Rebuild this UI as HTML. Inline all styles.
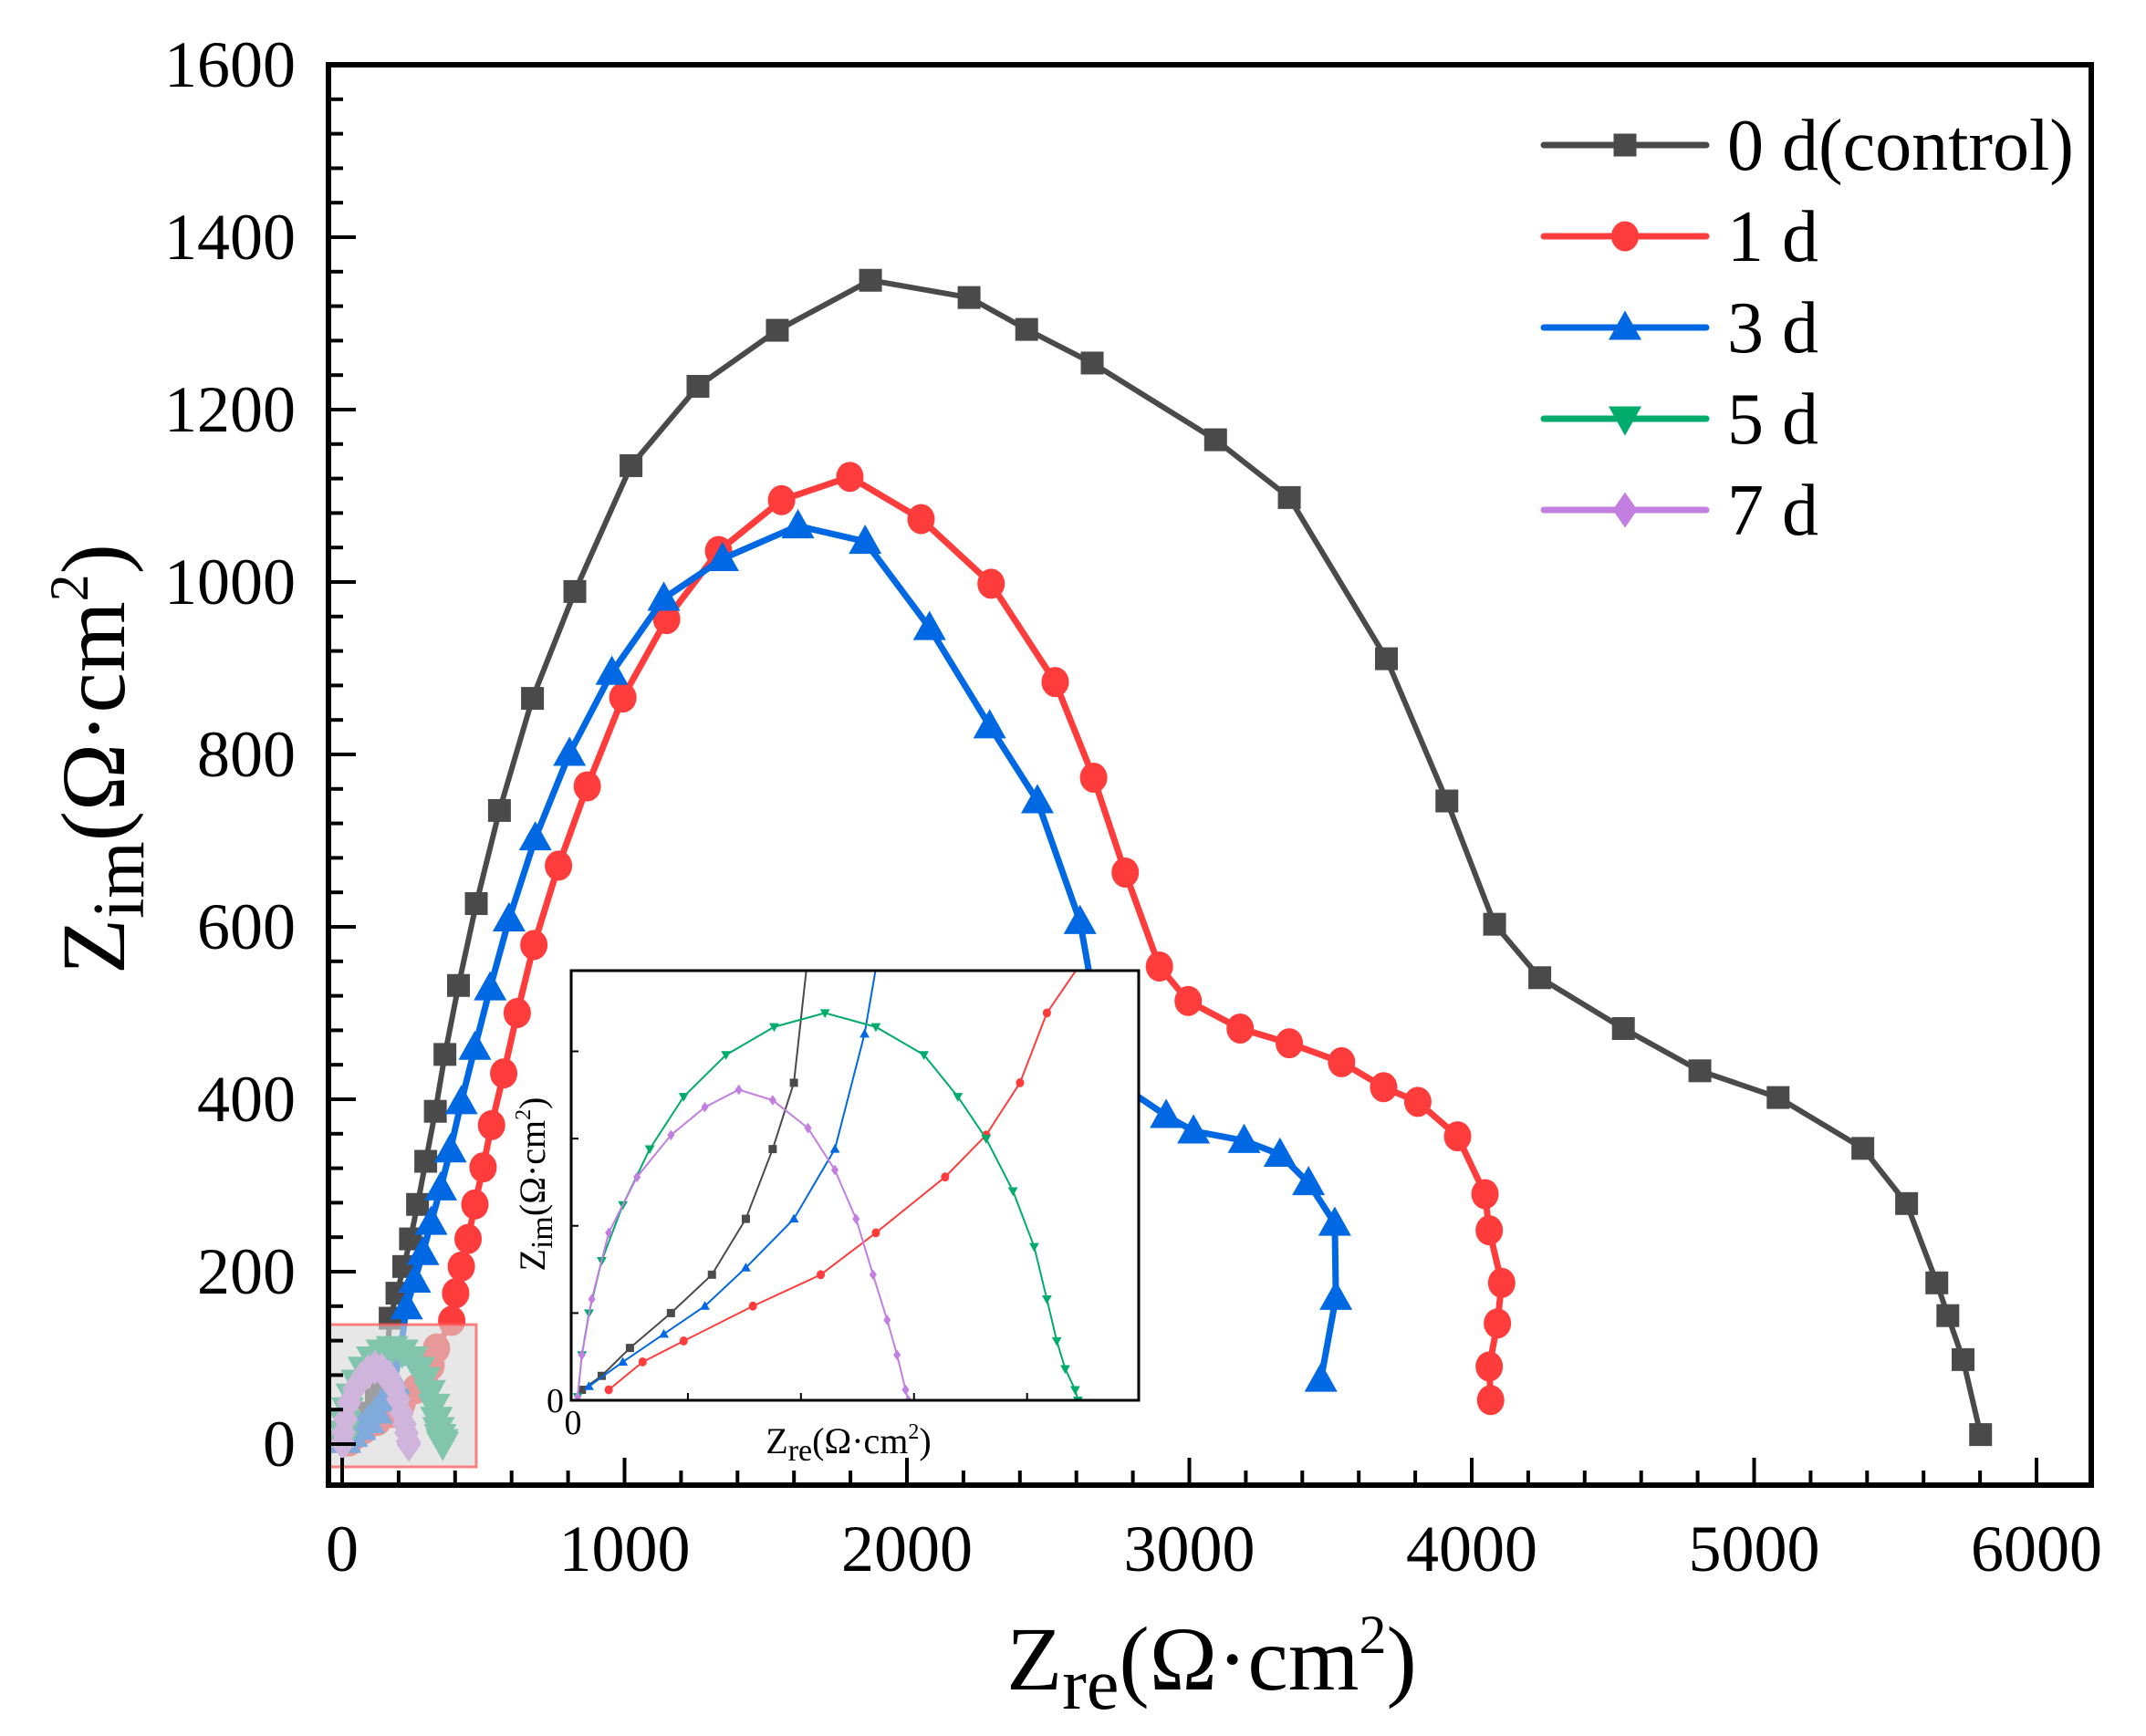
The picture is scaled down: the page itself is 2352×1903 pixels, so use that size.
<!DOCTYPE html>
<html><head><meta charset="utf-8"><style>
html,body{margin:0;padding:0;background:#fff}
svg{display:block}
text{font-family:"Liberation Serif","Times New Roman",serif;fill:#000}
</style></head><body>
<svg id="chart" width="2352" height="1903" viewBox="0 0 2352 1903" xmlns="http://www.w3.org/2000/svg">
<rect x="0" y="0" width="2352" height="1903" fill="#fff"/>
<g id="series"></g>
<rect x="360" y="1452" width="162" height="156" fill="rgba(215,215,215,0.6)" stroke="rgba(255,90,90,0.75)" stroke-width="3"/>
<g id="axes"></g>
<g id="inset"></g>
<g id="legend"></g>
<text x="1328" y="1852" font-size="100" text-anchor="middle">Z<tspan font-size="80" dy="21">re</tspan><tspan dy="-21">(Ω·cm</tspan><tspan font-size="60" dy="-40">2</tspan><tspan dy="40">)</tspan></text>
<text transform="translate(136,832) rotate(-90)" font-size="100" text-anchor="middle">Z<tspan font-size="80" dy="21">im</tspan><tspan dy="-21">(Ω·cm</tspan><tspan font-size="60" dy="-40">2</tspan><tspan dy="40">)</tspan></text>
</svg>
<script>
const xTicks = [0,1000,2000,3000,4000,5000,6000];
const yTicks = [0,200,400,600,800,1000,1200,1400,1600];
const seriesNames = ["0 d(control)","1 d","3 d","5 d","7 d"];
const blackX = [5,19,39,68,97,121,140,155,170,194,218,242,267,296,330,364,412,475,557,674,824,1023,1260,1541,1871,2220,2424,2656,3093,3354,3698,3912,4081,4241,4537,4808,5085,5385,5540,5647,5686,5740,5802];
const blackY = [3,7,15,25,36,52,72,91,146,175,206,238,278,328,386,452,532,627,735,865,989,1135,1227,1292,1350,1330,1293,1254,1165,1098,911,746,603,541,482,433,402,343,279,187,149,98,11];
const redX = [24,48,77,126,174,213,262,291,315,334,388,402,422,446,470,499,529,572,620,679,766,868,994,1149,1333,1556,1798,2050,2298,2525,2661,2773,2894,2996,3180,3354,3539,3688,3809,3950,4047,4062,4106,4091,4062,4067];
const redY = [3,11,17,27,36,48,64,76,91,111,143,175,206,238,278,321,370,430,500,579,671,763,866,957,1036,1095,1122,1073,998,884,773,663,554,514,482,465,443,414,397,357,290,248,187,140,90,51];
const blueX = [10,34,63,92,121,155,184,205,228,257,286,315,349,383,422,470,524,591,684,805,955,1139,1347,1614,1852,2080,2293,2462,2613,2681,2773,2918,3015,3194,3321,3422,3515,3519,3466];
const blueY = [4,11,19,27,38,52,72,105,159,190,222,257,297,341,397,460,529,609,703,801,895,981,1027,1065,1047,947,833,746,606,481,413,381,363,352,336,303,256,170,75];
const greenX = [2,5,10,19,34,53,77,107,141,177,213,247,271,291,310,325,334,341,347,354,356];
const greenY = [1,13,25,40,56,72,87,99,107,111,107,99,87,75,60,44,29,17,9,3,0];
const purpleX = [2,5,12,24,44,68,92,116,140,165,184,199,211,221,228,234,236];
const purpleY = [1,13,29,48,64,76,84,89,86,78,66,52,36,23,13,3,0];

const NS = "http://www.w3.org/2000/svg";
const X = v => 375 + v * 0.3095;
const Y = v => 1583 - v * 0.945;
const IX = v => 630 + v * 1.549;
const IY = v => 1535 - v * 3.825;

function mk(tag, attrs, parent){const e=document.createElementNS(NS,tag);for(const k in attrs)e.setAttribute(k,attrs[k]);parent.appendChild(e);return e;}

function marker(shape, cx, cy, s, color, parent){
  let e;
  if(shape==="square") e=mk("rect",{x:cx-s/2,y:cy-s/2,width:s,height:s,fill:color},parent);
  else if(shape==="circle") e=mk("ellipse",{cx:cx,cy:cy,rx:s*0.5,ry:s*0.55,fill:color},parent);
  else if(shape==="up") e=mk("polygon",{points:`${cx},${cy-s*0.62} ${cx-s*0.6},${cy+s*0.45} ${cx+s*0.6},${cy+s*0.45}`,fill:color},parent);
  else if(shape==="down") e=mk("polygon",{points:`${cx},${cy+s*0.62} ${cx-s*0.6},${cy-s*0.45} ${cx+s*0.6},${cy-s*0.45}`,fill:color},parent);
  else e=mk("polygon",{points:`${cx},${cy-s*0.65} ${cx-s*0.45},${cy} ${cx},${cy+s*0.65} ${cx+s*0.45},${cy}`,fill:color},parent);
  
  
  return e;
}

const series = [
  {xs:blackX, ys:blackY, color:"#4a4a4a", shape:"square"},
  {xs:redX, ys:redY, color:"#ff3c3c", shape:"circle"},
  {xs:blueX, ys:blueY, color:"#0068e3", shape:"up"},
  {xs:greenX, ys:greenY, color:"#00ac6b", shape:"down"},
  {xs:purpleX, ys:purpleY, color:"#c27fe0", shape:"diamond"}
];

const sg = document.getElementById("series");
series.forEach((s,i)=>{
  const pts = s.xs.map((x,j)=>X(x)+","+Y(s.ys[j])).join(" ");
  const pl = mk("polyline",{points:pts,fill:"none",stroke:s.color,"stroke-width":i===0?6:7,"stroke-linejoin":"round"},sg);
  
  
  s.xs.forEach((x,j)=>marker(s.shape, X(x), Y(s.ys[j]), i===0?25:30, s.color, sg));
});

const ax = document.getElementById("axes");
const frame = mk("rect",{x:360,y:71,width:1932,height:1557,fill:"none",stroke:"#000","stroke-width":6},ax);


for(let v=0; v<=6000; v+=200){
  const major = v%1000===0;
  const t = mk("line",{x1:X(v),x2:X(v),y1:1628,y2:1628-(major?30:16),stroke:"#000","stroke-width":4},ax);
  
  
}
for(let v=0; v<=1600; v+=40){
  const major = v%200===0;
  const t = mk("line",{x1:360,x2:360+(major?30:16),y1:Y(v),y2:Y(v),stroke:"#000","stroke-width":4},ax);
  
  
}
xTicks.forEach(v=>{
  const t = mk("text",{x:X(v),y:1722,"font-size":72,"text-anchor":"middle"},ax);
  t.textContent = v;
  
  
});
yTicks.forEach(v=>{
  const t = mk("text",{x:324,y:Y(v)+24,"font-size":72,"text-anchor":"end"},ax);
  t.textContent = v;
  
  
});

const ig = document.getElementById("inset");
const ibg = mk("rect",{x:626,y:1064,width:622,height:471,fill:"#fff"},ig);


const cp = mk("clipPath",{id:"insetClip"},ig);
mk("rect",{x:626,y:1064,width:622,height:471},cp);
const idata = mk("g",{"clip-path":"url(#insetClip)"},ig);


series.forEach((s,i)=>{
  const pts = s.xs.map((x,j)=>IX(x)+","+IY(s.ys[j])).join(" ");
  const pl = mk("polyline",{points:pts,fill:"none",stroke:s.color,"stroke-width":2},idata);
  
  
  s.xs.forEach((x,j)=>marker(s.shape, IX(x), IY(s.ys[j]), 9, s.color, idata));
});
const ifr = mk("rect",{x:626,y:1064,width:622,height:471,fill:"none",stroke:"#000","stroke-width":3},ig);


for(let v=80; v<400; v+=80){
  const t = mk("line",{x1:IX(v),x2:IX(v),y1:1535,y2:1527,stroke:"#000","stroke-width":2},ig);
  
  
}
for(let v=25; v<123; v+=25){
  const t = mk("line",{x1:626,x2:634,y1:IY(v),y2:IY(v),stroke:"#000","stroke-width":2},ig);
  
  
}
let t0 = mk("text",{x:628,y:1572,"font-size":38,"text-anchor":"middle"},ig);
t0.textContent="0";


t0 = mk("text",{x:618,y:1548,"font-size":38,"text-anchor":"end"},ig);
t0.textContent="0";


const ixt = mk("text",{x:930,y:1593,"font-size":40,"text-anchor":"middle"},ig);
ixt.innerHTML = 'Z<tspan font-size="34" dy="8">re</tspan><tspan dy="-8">(Ω·cm</tspan><tspan font-size="24" dy="-16">2</tspan><tspan dy="16">)</tspan>';


const iyt = mk("text",{transform:"translate(597,1298) rotate(-90)","font-size":40,"text-anchor":"middle"},ig);
iyt.innerHTML = 'Z<tspan font-size="34" dy="8">im</tspan><tspan dy="-8">(Ω·cm</tspan><tspan font-size="24" dy="-16">2</tspan><tspan dy="16">)</tspan>';



const lg = document.getElementById("legend");
seriesNames.forEach((n,i)=>{
  const y = 159 + i*100;
  const s = series[i];
  const g = mk("g",{},lg);
  
  
  mk("line",{x1:1692,x2:1870,y1:y,y2:y,stroke:s.color,"stroke-width":7,"stroke-linecap":"round"},g);
  marker(s.shape, 1781, y, i===0?25:30, s.color, g);
  const t = mk("text",{x:1893,y:y+27,"font-size":80},g);
  t.textContent = n;
  
  
});
</script>
</body></html>
